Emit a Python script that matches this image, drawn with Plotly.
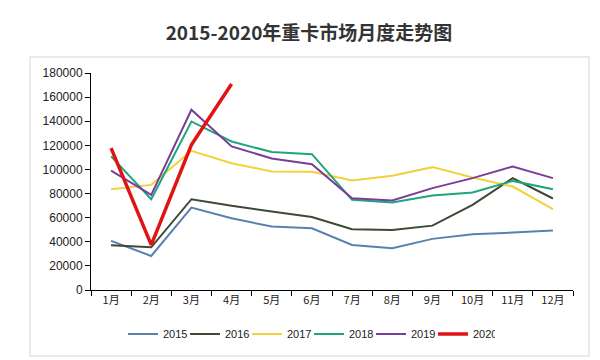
import plotly.graph_objects as go

months = ["1月", "2月", "3月", "4月", "5月", "6月", "7月", "8月", "9月", "10月", "11月", "12月"]
y2015 = [40700, 28200, 68400, 59500, 52600, 51200, 37400, 34600, 42400, 46200, 47600, 49300]
y2016 = [37100, 35400, 75300, 69800, 65100, 60500, 50400, 49800, 53400, 70600, 92800, 75900]
y2017 = [83600, 87200, 115500, 105200, 98300, 98000, 90800, 94700, 101900, 93300, 85800, 67000]
y2018 = [110800, 75300, 139800, 123200, 114400, 112700, 74800, 72500, 78400, 80900, 90500, 83600]
y2019 = [99100, 78900, 149500, 119100, 109100, 104400, 76100, 74200, 84500, 92800, 102500, 92800]
y2020 = [117700, 37400, 120500, 170800]

series = [
    ("2015", y2015, "#5a80b0", 2),
    ("2016", y2016, "#3c4a36", 2),
    ("2017", y2017, "#f2d23c", 2),
    ("2018", y2018, "#1ea57c", 2),
    ("2019", y2019, "#7a3d98", 2),
    ("2020", y2020, "#e01414", 3.5),
]

fig = go.Figure()
for name, vals, color, w in series:
    fig.add_trace(go.Scatter(
        x=months[:len(vals)], y=vals, mode="lines", name=name,
        line=dict(color=color, width=w),
    ))

# page body has an 8px margin, so the figure is laid out 8px smaller / shifted
W, H = 592, 352
L, R, T, B = 83, 27, 65, 70
pw, ph = W - L - R, H - T - B

fig.update_layout(
    width=W, height=H,
    margin=dict(l=L, r=R, t=T, b=B),
    paper_bgcolor="white", plot_bgcolor="white",
    title=dict(text="<b>2015-2020年重卡市场月度走势图</b>", x=301 / W, xanchor="center",
               y=1 - 25 / H, yanchor="middle",
               font=dict(family="Noto Sans CJK SC", size=19, color="#333333")),
    font=dict(family="Liberation Sans, Arial", color="#222222"),
    showlegend=True,
    legend=dict(orientation="h", x=(301 - L) / pw, xanchor="center",
                y=(T + ph - 326) / ph, yanchor="middle",
                font=dict(size=11, color="#222222", family="Liberation Sans, Arial"),
                entrywidth=17, entrywidthmode="pixels",
                itemwidth=30, tracegroupgap=0, bgcolor="rgba(0,0,0,0)"),
    shapes=[dict(type="rect", xref="paper", yref="paper",
                 x0=(22 - L) / pw, x1=(581 - L) / pw,
                 y0=(T + ph - 348) / ph, y1=(T + ph - 49) / ph,
                 line=dict(color="#e3e3e3", width=1.5), fillcolor="rgba(0,0,0,0)", layer="below")],
)

fig.update_xaxes(
    type="category", range=[-0.5, 11.5], tickson="boundaries",
    ticks="outside", ticklen=5, tickcolor="black",
    showline=True, linecolor="black", linewidth=1, showgrid=False, zeroline=False,
    tickfont=dict(family="Noto Sans CJK SC", size=11, color="#222222"),
)
fig.update_yaxes(
    range=[0, 180000], dtick=20000, tickformat="d",
    ticks="outside", ticklen=5, tickcolor="black",
    showline=True, linecolor="black", linewidth=1, showgrid=False, zeroline=False,
    tickfont=dict(size=12, color="#222222"),
)

fig.write_html("out.html")
